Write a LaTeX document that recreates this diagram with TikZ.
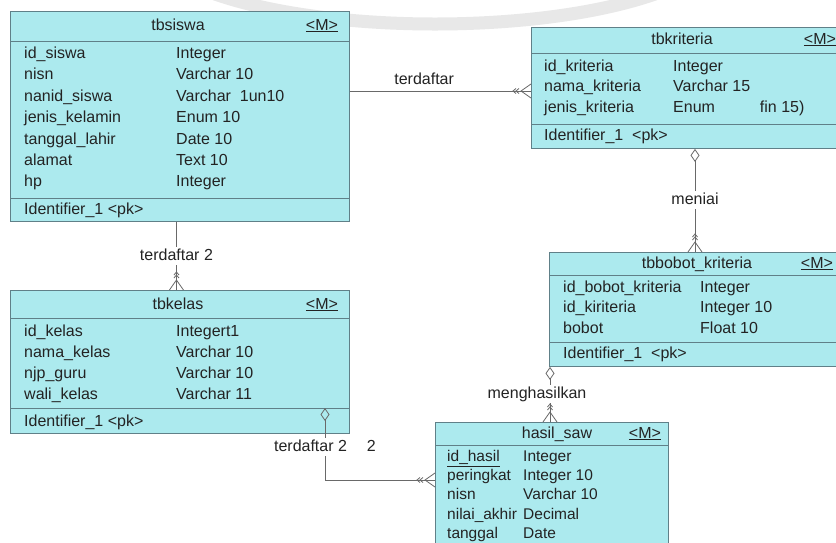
\documentclass[tikz,border=0pt]{standalone}
\usepackage{fontspec}
\setmainfont{Liberation Sans}
\usepackage{tikz}
\usetikzlibrary{arrows.meta,calc}
\definecolor{entfill}{RGB}{172,234,238}
\definecolor{entline}{RGB}{96,128,136}
\definecolor{connline}{RGB}{105,105,105}
\definecolor{txt}{RGB}{35,35,35}
\tikzset{
  entity/.style={draw=entline,fill=entfill,line width=0.9pt,anchor=north west,inner sep=0pt}, % table box
  sep/.style={draw=entline,line width=0.9pt},
  attr/.style={anchor=west,inner sep=0pt,text height=12pt,text depth=4pt,text=txt},
  tabtitle/.style={inner sep=0pt,text height=12pt,text depth=4pt,text=txt},
  conn/.style={draw=connline,line width=0.8pt},
  lbl/.style={fill=white,inner sep=1.5pt,text height=12pt,text depth=3pt,text=txt},
  own/.style={{Diamond[open,length=13pt,width=9pt]}-},
}
\newcommand{\crowfoot}[2]{% point, direction
  \begin{scope}[shift={(#1)},rotate=#2]
    \draw[conn] (0,-7) -- (10,0) -- (0,7);
    \draw[conn] (12,-2.5) -- (15,0) -- (12,2.5);
    \draw[conn] (15,-2.5) -- (18,0) -- (15,2.5);
  \end{scope}}

\begin{document}
\begin{tikzpicture}[x=1pt,y=-1pt,font=\fontsize{16}{19}\selectfont]
  \fill[white] (0,0) rectangle (836,542);
  \useasboundingbox (0,0) rectangle (836,542);
  \clip (0,0) rectangle (836,542);
  \draw[gray!18,line width=13pt] (215,-6) .. controls (330,34) and (540,34) .. (655,-6);

  % tables
  \node[entity,minimum width=339pt,minimum height=210pt] (siswa) at (10,11) {};
  \node[entity,minimum width=339pt,minimum height=143pt] (kelas) at (10,290) {};
  \node[entity,minimum width=320pt,minimum height=121pt] (kri) at (531,27) {};
  \node[entity,minimum width=300pt,minimum height=114pt] (bobot) at (549,252) {};
  \node[entity,minimum width=233pt,minimum height=140pt] (hasil) at (435,422) {};
  \foreach \e/\d in {siswa/30,siswa/187,kelas/28,kelas/118,kri/26,kri/97,bobot/23,bobot/90,hasil/23}
    \draw[sep] ($(\e.north west)+(0,\d)$) -- ($(\e.north east)+(0,\d)$);

  \node[tabtitle] (siswa-t) at (178,26) {tbsiswa};
  \node[tabtitle] (siswa-m) at (322,26) {\underline{<M>}};
  \node[tabtitle] (kelas-t) at (178,305) {tbkelas};
  \node[tabtitle] (kelas-m) at (322,305) {\underline{<M>}};
  \node[tabtitle] (kri-t) at (682,40) {tbkriteria};
  \node[tabtitle] (kri-m) at (820,40) {\underline{<M>}};
  \node[tabtitle] (bobot-t) at (697,264) {tbbobot\_kriteria};
  \node[tabtitle] (bobot-m) at (817,264) {\underline{<M>}};
  \node[tabtitle] (hasil-t) at (557,434) {hasil\_saw};
  \node[tabtitle] (hasil-m) at (645,434) {\underline{<M>}};

  \foreach \n/\t [count=\i] in {id\_siswa/Integer,nisn/Varchar 10,nanid\_siswa/Varchar\ \ 1un10,
      jenis\_kelamin/Enum 10,tanggal\_lahir/Date 10,alamat/Text 10,hp/Integer} {
    \node[attr] (siswa-n\i) at (24,33+21.4*\i) {\n};
    \node[attr] (siswa-d\i) at (176,33+21.4*\i) {\t};
  }
  \node[attr] (siswa-pk) at (24,210) {Identifier\_1 <pk>};

  \foreach \n/\t [count=\i] in {id\_kelas/Integert1,nama\_kelas/Varchar 10,njp\_guru/Varchar 10,wali\_kelas/Varchar 11} {
    \node[attr] (kelas-n\i) at (24,311+21*\i) {\n};
    \node[attr] (kelas-d\i) at (176,311+21*\i) {\t};
  }
  \node[attr] (kelas-pk) at (24,422) {Identifier\_1 <pk>};

  \foreach \n/\t [count=\i] in {id\_kriteria/Integer,nama\_kriteria/Varchar 15,jenis\_kriteria/Enum\hspace{45pt}fin 15)} {
    \node[attr] (kri-n\i) at (544,46.5+20.5*\i) {\n};
    \node[attr] (kri-d\i) at (673,46.5+20.5*\i) {\t};
  }
  \node[attr] (kri-pk) at (544,136) {Identifier\_1\ \ <pk>};

  \foreach \n/\t [count=\i] in {id\_bobot\_kriteria/Integer,id\_kiriteria/Integer 10,bobot/Float 10} {
    \node[attr] (bobot-n\i) at (563,267.5+20.5*\i) {\n};
    \node[attr] (bobot-d\i) at (700,267.5+20.5*\i) {\t};
  }
  \node[attr] (bobot-pk) at (563,354) {Identifier\_1\ \ <pk>};

  \foreach \n/\t [count=\i] in {\underline{id\_hasil}/Integer,peringkat/Integer 10,nisn/Varchar 10,
      nilai\_akhir/Decimal,tanggal/Date} {
    \node[attr,font=\fontsize{15.5}{18}\selectfont] (hasil-n\i) at (447,438+19.3*\i) {\n};
    \node[attr,font=\fontsize{15.5}{18}\selectfont] (hasil-d\i) at (523,438+19.3*\i) {\t};
  }

  % relations
  \coordinate (c-sk) at ($(siswa.north east)+(0,80)$);
  \coordinate (c-ks) at ($(kri.north west)+(0,64)$);
  \draw[conn] (c-sk) -- (c-ks) node[lbl,pos=0.41,above=2pt] (l-terdaftar) {terdaftar};
  \crowfoot{c-ks}{180}

  \coordinate (c-s2) at ($(siswa.south)+(-3.5,0)$);
  \coordinate (c-k2) at ($(kelas.north)+(-3.5,0)$);
  \draw[conn] (c-s2) -- (c-k2) node[lbl,midway] (l-terdaftar2) {terdaftar 2};
  \crowfoot{c-k2}{90}

  \coordinate (c-km) at ($(kri.south west)+(164,0)$);
  \coordinate (c-bm) at ($(bobot.north west)+(146,0)$);
  \draw[conn,own] (c-km) -- (c-bm) node[lbl,midway] (l-meniai) {meniai};
  \crowfoot{c-bm}{90}

  \coordinate (c-bh) at ($(bobot.south west)+(1,0)$);
  \coordinate (c-hb) at ($(hasil.north west)+(115,0)$);
  \draw[conn,own] (c-bh) -- (c-hb) node[lbl,midway,xshift=-13pt] (l-meng) {menghasilkan};
  \crowfoot{c-hb}{90}

  \coordinate (c-kh) at ($(kelas.north west)+(315,118)$);
  \coordinate (c-hk) at ($(hasil.north west)+(0,58)$);
  \draw[conn,own] (c-kh) |- (c-hk) node[lbl,pos=0.27] (l-terdaftar22) {terdaftar 2\hspace{20pt}2};
  \crowfoot{c-hk}{180}
\end{tikzpicture}
\end{document}
